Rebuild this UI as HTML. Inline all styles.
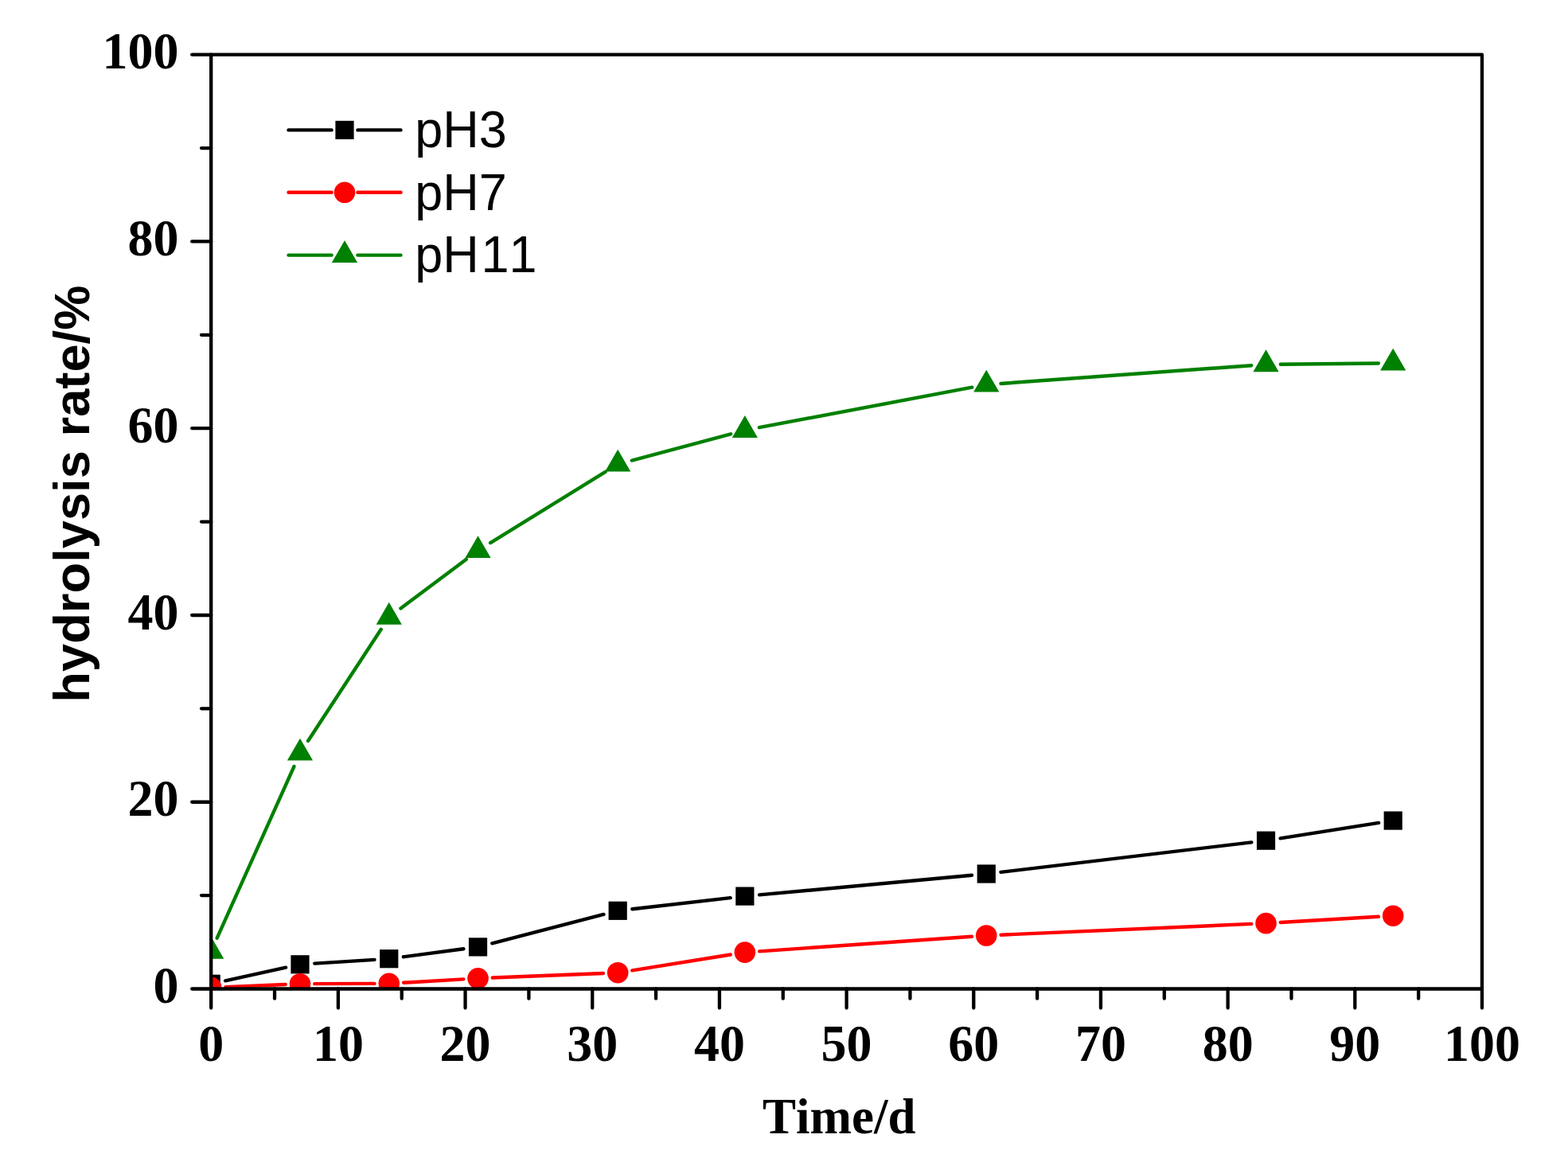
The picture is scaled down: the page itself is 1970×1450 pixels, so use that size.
<!DOCTYPE html>
<html><head><meta charset="utf-8"><title>hydrolysis rate</title>
<style>html,body{margin:0;padding:0;background:#fff;}svg{display:block;}text{font-kerning:none;font-feature-settings:"kern" 0;}</style>
</head><body>
<svg width="1970" height="1450" viewBox="0 0 1970 1450">
<defs><clipPath id="pc"><rect x="265.2" y="68.7" width="1596.8" height="1173.8"/></clipPath></defs>
<rect width="1970" height="1450" fill="#fff"/>
<g clip-path="url(#pc)">
<path d="M283.08 1232.38L359.1 1215.72M395.24 1210.64L470.49 1205.86M506.89 1202.3L582.39 1192.3M618.24 1185.3L758.46 1148.9M794.36 1142.23L917.67 1128.17M954.08 1124.41L1221.03 1099.69M1257.42 1095.84L1572.37 1058.36M1608.62 1053.36L1732.15 1033.94" fill="none" stroke="#000000" stroke-width="4.4" stroke-linecap="round"/>
<g fill="#000000"><rect x="253.6" y="1224.7" width="23.2" height="23.2"/><rect x="365.38" y="1200.2" width="23.2" height="23.2"/><rect x="477.15" y="1193.1" width="23.2" height="23.2"/><rect x="588.93" y="1178.3" width="23.2" height="23.2"/><rect x="764.58" y="1132.7" width="23.2" height="23.2"/><rect x="924.26" y="1114.5" width="23.2" height="23.2"/><rect x="1227.65" y="1086.4" width="23.2" height="23.2"/><rect x="1578.94" y="1044.6" width="23.2" height="23.2"/><rect x="1738.62" y="1019.5" width="23.2" height="23.2"/></g>
<path d="M283.48 1240.13L358.69 1236.97M395.28 1236.13L470.45 1235.87M507.02 1234.74L582.26 1230.36M618.81 1228.56L757.89 1222.94M794.25 1219.3L917.79 1199.5M954.11 1195.33L1220.99 1176.77M1257.53 1174.7L1572.26 1160.9M1608.81 1159.02L1731.96 1151.78" fill="none" stroke="#ff0000" stroke-width="4.4" stroke-linecap="round"/>
<g fill="#ff0000"><circle cx="265.2" cy="1240.9" r="13.3"/><circle cx="376.98" cy="1236.2" r="13.3"/><circle cx="488.75" cy="1235.8" r="13.3"/><circle cx="600.53" cy="1229.3" r="13.3"/><circle cx="776.18" cy="1222.2" r="13.3"/><circle cx="935.86" cy="1196.6" r="13.3"/><circle cx="1239.25" cy="1175.5" r="13.3"/><circle cx="1590.54" cy="1160.1" r="13.3"/><circle cx="1750.22" cy="1150.7" r="13.3"/></g>
<path d="M272.69 1178.7L369.48 963M386.99 930.98L478.74 790.72M503.41 764.44L585.87 702.76M616.1 682.18L760.61 592.92M793.85 578.57L918.18 545.33M953.84 537.2L1221.27 486.7M1257.5 481.98L1572.29 459.22M1608.84 457.72L1731.92 456.48" fill="none" stroke="#008000" stroke-width="4.4" stroke-linecap="round"/>
<g fill="#008000"><polygon points="265.2,1176.8 281.31,1204.7 249.09,1204.7"/><polygon points="376.98,927.7 393.08,955.6 360.87,955.6"/><polygon points="488.75,756.8 504.86,784.7 472.64,784.7"/><polygon points="600.53,673.2 616.64,701.1 584.42,701.1"/><polygon points="776.18,564.7 792.28,592.6 760.07,592.6"/><polygon points="935.86,522 951.96,549.9 919.75,549.9"/><polygon points="1239.25,464.7 1255.36,492.6 1223.14,492.6"/><polygon points="1590.54,439.3 1606.65,467.2 1574.44,467.2"/><polygon points="1750.22,437.7 1766.33,465.6 1734.12,465.6"/></g>
</g>
<path d="M265.2 68.7H1862V1242.5H265.2Z" fill="none" stroke="#000" stroke-width="4.3" stroke-linejoin="round"/>
<path d="M265.2 1242.5V1266.5M424.88 1242.5V1266.5M584.56 1242.5V1266.5M744.24 1242.5V1266.5M903.92 1242.5V1266.5M1063.6 1242.5V1266.5M1223.28 1242.5V1266.5M1382.96 1242.5V1266.5M1542.64 1242.5V1266.5M1702.32 1242.5V1266.5M1862 1242.5V1266.5M345.04 1242.5V1254.7M504.72 1242.5V1254.7M664.4 1242.5V1254.7M824.08 1242.5V1254.7M983.76 1242.5V1254.7M1143.44 1242.5V1254.7M1303.12 1242.5V1254.7M1462.8 1242.5V1254.7M1622.48 1242.5V1254.7M1782.16 1242.5V1254.7M265.2 1242.5H241.2M265.2 1007.74H241.2M265.2 772.98H241.2M265.2 538.22H241.2M265.2 303.46H241.2M265.2 68.7H241.2M265.2 1125.12H253M265.2 890.36H253M265.2 655.6H253M265.2 420.84H253M265.2 186.08H253" fill="none" stroke="#000" stroke-width="4.3" stroke-linecap="round"/>
<g style="font-family:'Liberation Serif','Times New Roman',serif;font-weight:bold;font-size:64px" fill="#000">
<text transform="translate(224.5 1260.1) scale(1 1.025)" text-anchor="end">0</text>
<text transform="translate(224.5 1025.34) scale(1 1.025)" text-anchor="end">20</text>
<text transform="translate(224.5 790.58) scale(1 1.025)" text-anchor="end">40</text>
<text transform="translate(224.5 555.82) scale(1 1.025)" text-anchor="end">60</text>
<text transform="translate(224.5 321.06) scale(1 1.025)" text-anchor="end">80</text>
<text transform="translate(224.5 86.3) scale(1 1.025)" text-anchor="end">100</text>
<text transform="translate(265.2 1333) scale(1 1.025)" text-anchor="middle">0</text>
<text transform="translate(424.88 1333) scale(1 1.025)" text-anchor="middle">10</text>
<text transform="translate(584.56 1333) scale(1 1.025)" text-anchor="middle">20</text>
<text transform="translate(744.24 1333) scale(1 1.025)" text-anchor="middle">30</text>
<text transform="translate(903.92 1333) scale(1 1.025)" text-anchor="middle">40</text>
<text transform="translate(1063.6 1333) scale(1 1.025)" text-anchor="middle">50</text>
<text transform="translate(1223.28 1333) scale(1 1.025)" text-anchor="middle">60</text>
<text transform="translate(1382.96 1333) scale(1 1.025)" text-anchor="middle">70</text>
<text transform="translate(1542.64 1333) scale(1 1.025)" text-anchor="middle">80</text>
<text transform="translate(1702.32 1333) scale(1 1.025)" text-anchor="middle">90</text>
<text transform="translate(1862 1333) scale(1 1.025)" text-anchor="middle">100</text>
</g>
<text x="958" y="1424.3" style="font-family:'Liberation Serif','Times New Roman',serif;font-weight:bold;font-size:63px" fill="#000">Time/d</text>
<text transform="translate(112.3 882.7) rotate(-90)" x="0" y="0" style="font-family:'Liberation Sans',Arial,sans-serif;font-weight:bold;font-size:63.3px" fill="#000">hydrolysis rate/%</text>
<path d="M362.5 163.4H416.6M449.4 163.4H503.5" stroke="#000000" stroke-width="4.4" stroke-linecap="round" fill="none"/>
<g fill="#000000"><rect x="421.4" y="151.8" width="23.2" height="23.2"/></g>
<text transform="translate(521.3 185) scale(1 1.04)" style="font-family:'Liberation Sans',Arial,sans-serif;font-size:63px" fill="#000">pH3</text>
<path d="M362.5 241.8H416.6M449.4 241.8H503.5" stroke="#ff0000" stroke-width="4.4" stroke-linecap="round" fill="none"/>
<g fill="#ff0000"><circle cx="433" cy="241.8" r="13.3"/></g>
<text transform="translate(521.3 264) scale(1 1.04)" style="font-family:'Liberation Sans',Arial,sans-serif;font-size:63px" fill="#000">pH7</text>
<path d="M362.5 320.6H416.6M449.4 320.6H503.5" stroke="#008000" stroke-width="4.4" stroke-linecap="round" fill="none"/>
<g fill="#008000"><polygon points="433,302 449.11,329.9 416.89,329.9"/></g>
<text transform="translate(521.3 342.2) scale(1 1.04)" style="font-family:'Liberation Sans',Arial,sans-serif;font-size:63px" fill="#000">pH<tspan dx="2.6">11</tspan></text>
</svg>
</body></html>
